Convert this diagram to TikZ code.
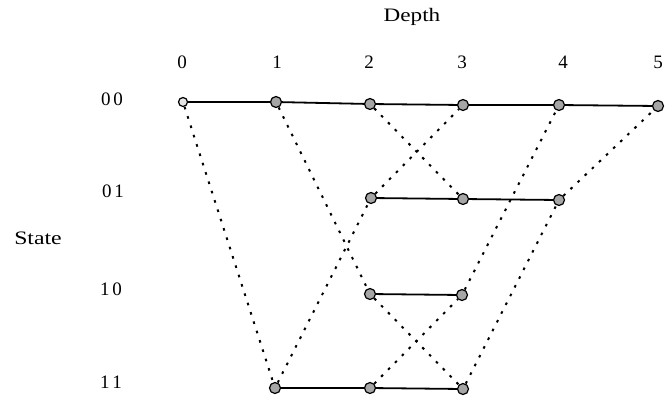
\documentclass[tikz,border=0pt]{standalone}
\usepackage{fontspec}
\setmainfont{Liberation Serif}
\begin{document}
\begin{tikzpicture}[x=1pt,y=-1pt,
  st/.style={circle,draw=black,line width=1.2pt,fill=gray!70,inner sep=0pt,minimum size=11pt},
  st0/.style={circle,draw=black,line width=1.2pt,fill=gray!20,inner sep=0pt,minimum size=9pt},
  lbl/.style={font=\fontsize{19}{19}\selectfont,inner sep=0pt},
  solidl/.style={line width=1.8pt},
  dotl/.style={line width=2pt,dash pattern=on 2.6pt off 7.2pt}]
\useasboundingbox (0,0) rectangle (666,397);
% labels
\node[lbl] (depth) at (412,17) {\scalebox{1.22}[1]{Depth}};
\node[lbl] (state) at (38,238) {\scalebox{1.25}[1]{State}};
\node[lbl] (c0) at (182,62) {0};
\node[lbl] (c1) at (277,62) {1};
\node[lbl] (c2) at (369,62) {2};
\node[lbl] (c3) at (462,62) {3};
\node[lbl] (c4) at (563,62) {4};
\node[lbl] (c5) at (658,62) {5};
\node[lbl] (r00) at (112,99) {0\hspace{3pt}0};
\node[lbl] (r01) at (113,191) {0\hspace{3pt}1};
\node[lbl] (r10) at (111,289) {1\hspace{3pt}0};
\node[lbl] (r11) at (111,382) {1\hspace{3pt}1};
% states
\node[st0] (a0) at (183,102) {};
\node[st] (a1) at (276,102) {};
\node[st] (a2) at (370,104) {};
\node[st] (a3) at (463,105) {};
\node[st] (a4) at (559,105) {};
\node[st] (a5) at (658,106) {};
\node[st] (b2) at (371,198) {};
\node[st] (b3) at (463,199) {};
\node[st] (b4) at (559,200) {};
\node[st] (c2n) at (370,294) {};
\node[st] (c3n) at (462,295) {};
\node[st] (d1) at (275,388) {};
\node[st] (d2) at (370,388) {};
\node[st] (d3) at (463,389) {};
% solid
\draw[solidl] (a0)--(a1);
\draw[solidl] (a1)--(a2);
\draw[solidl] (a2)--(a3);
\draw[solidl] (a3)--(a4);
\draw[solidl] (a4)--(a5);
\draw[solidl] (b2)--(b3);
\draw[solidl] (b3)--(b4);
\draw[solidl] (c2n)--(c3n);
\draw[solidl] (d1)--(d2);
\draw[solidl] (d2)--(d3);
% dotted
\draw[dotl] (a0)--(d1);
\draw[dotl] (a1)--(c2n);
\draw[dotl] (d1)--(b2);
\draw[dotl] (a2)--(b3);
\draw[dotl] (b2)--(a3);
\draw[dotl] (c2n)--(d3);
\draw[dotl] (d2)--(c3n);
\draw[dotl] (c3n)--(a4);
\draw[dotl] (d3)--(b4);
\draw[dotl] (b4)--(a5);
\end{tikzpicture}
\end{document}
